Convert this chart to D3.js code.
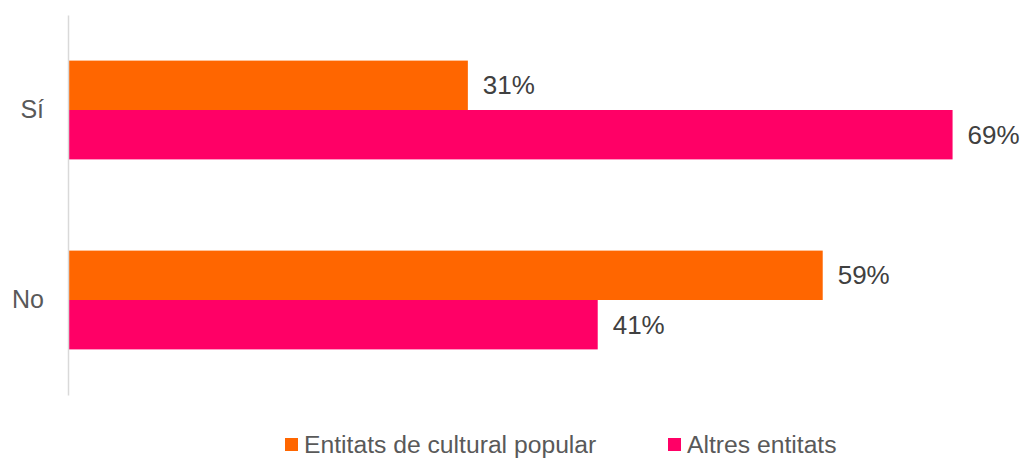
<!DOCTYPE html>
<html lang="en">
<head>
    <meta charset="UTF-8">
    <title>Entitats</title>
    <script src="https://cdn.jsdelivr.net/npm/d3@7"></script>
    <style>
        body { margin: 0; background: #fff; }
        text { font-family: "Liberation Sans", Arial, sans-serif; }
    </style>
</head>
<body>
    <div id="chart"></div>

    <script>
        const categories = ["Sí", "No"];
        const seriesNames = ["Entitats de cultural popular", "Altres entitats"];
        const seriesColors = ["#FF6600", "#FF0066"];
        // shares (labels are rounded)
        const culturaPopular = [31.1, 58.7];
        const altresEntitats = [68.8, 41.2];

        const width = 1023;
        const height = 459;
        const marginTop = 15;
        const marginBottom = 64;
        const marginLeft = 68;
        const plotRight = 968;

        const rows = categories.map((c, i) => ({
            cat: c,
            values: [culturaPopular[i], altresEntitats[i]]
        }));

        const x = d3.scaleLinear()
            .domain([0, 70])
            .range([marginLeft, plotRight]);

        const y = d3.scaleBand()
            .domain(categories)
            .range([marginTop, height - marginBottom])
            .paddingInner(0.48)
            .paddingOuter(0.24);

        const ySub = d3.scaleBand()
            .domain(d3.range(seriesNames.length))
            .range([0, y.bandwidth()]);

        const svg = d3.select("#chart").append("svg")
            .attr("width", width)
            .attr("height", height);

        // bars
        const group = svg.append("g")
            .selectAll("g")
            .data(rows)
            .join("g")
            .attr("transform", d => `translate(0,${y(d.cat)})`);

        group.selectAll("rect")
            .data(d => d.values)
            .join("rect")
            .attr("x", x(0) + 1)
            .attr("y", (d, i) => ySub(i))
            .attr("width", d => x(d) - x(0) - 1)
            .attr("height", ySub.bandwidth())
            .attr("fill", (d, i) => seriesColors[i]);

        group.selectAll("text")
            .data(d => d.values)
            .join("text")
            .attr("x", d => x(d) + 15)
            .attr("y", (d, i) => ySub(i) + ySub.bandwidth() / 2)
            .attr("dy", "0.35em")
            .attr("font-size", 26)
            .attr("fill", "#404040")
            .text(d => Math.round(d) + "%");

        // category axis
        svg.append("g")
            .attr("transform", `translate(${marginLeft},0)`)
            .call(d3.axisLeft(y).tickSize(0).tickPadding(24))
            .call(g => g.select(".domain")
                .attr("stroke", "#d9d9d9")
                .attr("stroke-width", 1.5))
            .call(g => g.selectAll(".tick text")
                .attr("font-size", 25)
                .attr("font-family", "Liberation Sans, Arial, sans-serif")
                .attr("fill", "#595959"));

        // legend
        const legend = svg.append("g")
            .attr("transform", "translate(285,444)");

        const legendX = [0, 383];
        const item = legend.selectAll("g")
            .data(seriesNames)
            .join("g")
            .attr("transform", (d, i) => `translate(${legendX[i]},0)`);

        item.append("rect")
            .attr("x", 0)
            .attr("y", -6)
            .attr("width", 13)
            .attr("height", 13)
            .attr("fill", (d, i) => seriesColors[i]);

        item.append("text")
            .attr("x", 19)
            .attr("y", 0)
            .attr("dy", "0.35em")
            .attr("font-size", 24.7)
            .attr("fill", "#595959")
            .text(d => d);
    </script>
</body>
</html>
